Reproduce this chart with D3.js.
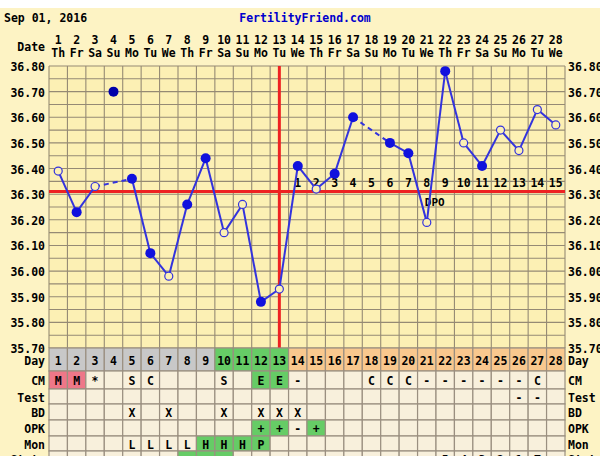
<!DOCTYPE html>
<html><head><meta charset="utf-8">
<script src="https://cdn.jsdelivr.net/npm/d3@7"></script>
<style>body{margin:0;background:#fff;}text{font-family:"DejaVu Sans Mono",monospace;font-weight:bold;}</style>
</head><body><div id="vis"></div>
<script>
const days = d3.range(1, 29);
const weekdays = ["Th","Fr","Sa","Su","Mo","Tu","We","Th","Fr","Sa","Su","Mo","Tu","We","Th","Fr","Sa","Su","Mo","Tu","We","Th","Fr","Sa","Su","Mo","Tu","We"];
const temps = [36.39,36.23,36.33,36.70,36.36,36.07,35.98,36.26,36.44,36.15,36.26,35.88,35.93,36.41,36.32,36.38,36.60,null,36.50,36.46,36.19,36.78,36.50,36.41,36.55,36.47,36.63,36.57];
const openPts = [1,3,7,10,11,13,15,21,23,25,26,27,28];
const discarded = [4];
const yTicks = [36.80,36.70,36.60,36.50,36.40,36.30,36.20,36.10,36.00,35.90,35.80,35.70];
const coverline = 36.31;
const ovulationDay = 13;
const cm = ["M","M","*","","S","C","","","","S","","E","E","-","","","","C","C","C","-","-","-","-","-","-","C",""];
const test = ["","","","","","","","","","","","","","","","","","","","","","","","","","-","-",""];
const bd = ["","","","","X","","X","","","X","","X","X","X","","","","","","","","","","","","","",""];
const opk = ["","","","","","","","","","","","+","+","-","+","","","","","","","","","","","","",""];
const mon = ["","","","","L","L","L","L","H","H","H","P","","","","","","","","","","","","","","","",""];
const state = ["","","","","","","","","","","","","","","","","","","","","","5","4","3","2","1","T",""];

const W = 600, H = 456;
const L = 49, R = 565, T = 66, B = 348;
const FS = 11.5;
const svg = d3.select("#vis").append("svg").attr("width", W).attr("height", H);
svg.append("rect").attr("x",0).attr("y",8).attr("width",W).attr("height",H-8).attr("fill","#fdf3c4");

const x = d3.scaleBand().domain(days).range([L, R]);
const xc = d => x(d) + x.bandwidth()/2;
const y = d3.scaleLinear().domain([35.70, 36.80]).range([B, T]);

svg.append("text").attr("x",4).attr("y",22).attr("font-size",FS).text("Sep 01, 2016");
svg.append("text").attr("x",305).attr("y",22).attr("font-size",FS).attr("text-anchor","middle").attr("fill","#0000cc").text("FertilityFriend.com");
svg.append("text").attr("x",45).attr("y",51).attr("font-size",FS).attr("text-anchor","end").text("Date");
svg.selectAll(".dn").data(days).join("text").attr("x",xc).attr("y",44).attr("font-size",FS).attr("text-anchor","middle").text(d=>d);
svg.selectAll(".wd").data(days).join("text").attr("x",xc).attr("y",57).attr("font-size",FS).attr("text-anchor","middle").text((d,i)=>weekdays[i]);

// plot area
svg.append("rect").attr("x",L).attr("y",T).attr("width",R-L).attr("height",B-T).attr("fill","#fcf0b4");
const g = svg.append("g").attr("stroke","#958a74").attr("stroke-width",1.1);
days.forEach(d => g.append("line").attr("x1",x(d)).attr("x2",x(d)).attr("y1",T).attr("y2",B));
g.append("line").attr("x1",R).attr("x2",R).attr("y1",T).attr("y2",B);
d3.range(0, 23).forEach(i => { const v = 35.70 + i*0.05; g.append("line").attr("x1",L).attr("x2",R).attr("y1",y(v)).attr("y2",y(v)); });

yTicks.forEach(v => {
  svg.append("text").attr("x",45).attr("y",y(v)+5).attr("font-size",FS).attr("text-anchor","end").text(v.toFixed(2));
  svg.append("text").attr("x",568).attr("y",y(v)+5).attr("font-size",FS).text(v.toFixed(2));
});

// coverline and ovulation
svg.append("line").attr("x1",L).attr("x2",R).attr("y1",y(coverline)).attr("y2",y(coverline)).attr("stroke","#ee2222").attr("stroke-width",3);
svg.append("line").attr("x1",xc(ovulationDay)).attr("x2",xc(ovulationDay)).attr("y1",T).attr("y2",B).attr("stroke","#ee2222").attr("stroke-width",3);
days.filter(d => d > ovulationDay).forEach(d => {
  svg.append("text").attr("x",xc(d)).attr("y",y(coverline)-5).attr("font-size",FS).attr("text-anchor","middle").text(d-ovulationDay);
});
svg.append("text").attr("x",xc(21)+8).attr("y",y(coverline)+14).attr("font-size",11).attr("text-anchor","middle").text("DPO");

// temperature line
const pts = days.map((d,i) => ({d, v: temps[i]})).filter(p => p.v !== null && !discarded.includes(p.d));
for (let i = 1; i < pts.length; i++) {
  const a = pts[i-1], b = pts[i];
  const gap = b.d - a.d > 1;
  svg.append("line").attr("x1",xc(a.d)).attr("y1",y(a.v)).attr("x2",xc(b.d)).attr("y2",y(b.v))
    .attr("stroke","#3333dd").attr("stroke-width",2).attr("stroke-dasharray", gap ? "5,4" : null);
}
days.forEach((d,i) => {
  if (temps[i] === null) return;
  const open = openPts.includes(d);
  svg.append("circle").attr("cx",xc(d)).attr("cy",y(temps[i])).attr("r", open ? 4 : 5)
    .attr("fill", open ? "#fcf0b4" : (discarded.includes(d) ? "#0000aa" : "#1111dd"))
    .attr("stroke", open ? "#3333dd" : "none").attr("stroke-width",1.2);
});

// table
const rows = [
  {name:"Day", vals: days.map(String), h:23},
  {name:"CM", vals: cm, h:18},
  {name:"Test", vals: test, h:15},
  {name:"BD", vals: bd, h:16},
  {name:"OPK", vals: opk, h:16},
  {name:"Mon", vals: mon, h:15},
  {name:"State", vals: state, h:16}
];
const green = "#66cc66";
function cellFill(r, i) {
  const d = i + 1;
  if (r.name === "Day") return d <= 9 ? "#c8c8c8" : d <= 13 ? green : "#f9c88e";
  if (r.name === "CM" && r.vals[i] === "M") return "#ee7788";
  if (r.name === "CM" && r.vals[i] === "E") return green;
  if (r.name === "OPK" && r.vals[i] === "+") return green;
  if (r.name === "Mon" && (r.vals[i] === "H" || r.vals[i] === "P")) return green;
  if (r.name === "State" && d >= 8 && d <= 10) return green;
  return "#f8f0dc";
}
let ty = B;
rows.forEach(r => {
  svg.append("text").attr("x",45).attr("y",ty + r.h/2 + 5).attr("font-size",FS).attr("text-anchor","end").text(r.name);
  svg.append("text").attr("x",568).attr("y",ty + r.h/2 + 5).attr("font-size",FS).text(r.name);
  days.forEach((d,i) => {
    svg.append("rect").attr("x",x(d)).attr("y",ty).attr("width",x.bandwidth()).attr("height",r.h)
      .attr("fill", cellFill(r,i)).attr("stroke","#9a8f80").attr("stroke-width",1.2);
    if (r.vals[i]) svg.append("text").attr("x",xc(d)).attr("y",ty + r.h/2 + 5).attr("font-size",FS).attr("text-anchor","middle").text(r.vals[i]);
  });
  ty += r.h;
});
</script></body></html>
